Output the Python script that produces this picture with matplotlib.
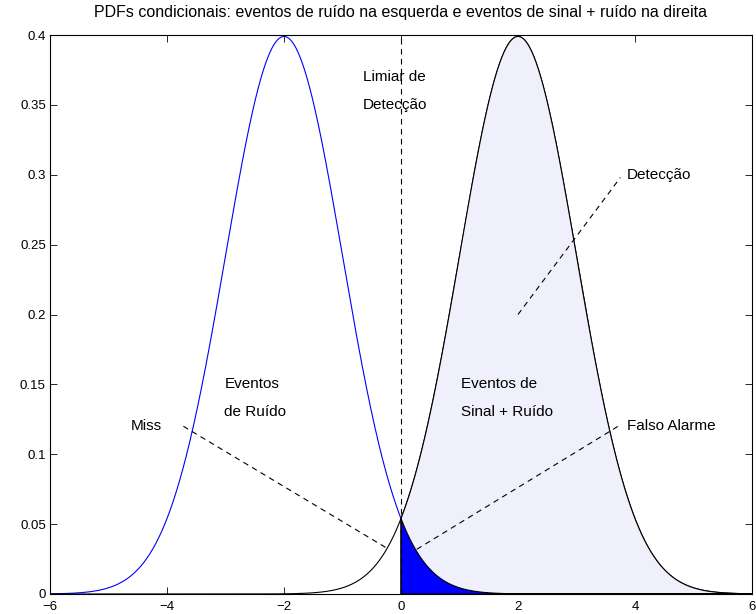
import matplotlib
matplotlib.use('Agg')
import matplotlib.pyplot as plt
import numpy as np

plt.rcParams['font.family'] = ['Liberation Sans', 'DejaVu Sans']
plt.rcParams['font.size'] = 9

# parametros das PDFs
media_ruido = -2.0
media_sinal = 2.0
desvio = 1.0
limiar = 0.0

xlim = [-6, 6]
ylim = [0, 0.4]
xticks = [-6, -4, -2, 0, 2, 4, 6]
yticks = [0, 0.05, 0.1, 0.15, 0.2, 0.25, 0.3, 0.35, 0.4]

titulo = 'PDFs condicionais: eventos de ruído na esquerda e eventos de sinal + ruído na direita'

# linhas de anotacao: (x0, y0, x1, y1)
linha_deteccao = [2.0, 0.2, 3.75, 0.298]
linha_falso = [0.27, 0.032, 3.75, 0.121]
linha_miss = [-3.72, 0.12, -0.25, 0.033]

FS = 11


def gauss(x, m, s):
	return np.exp(-0.5 * ((x - m) / s) ** 2) / (s * np.sqrt(2 * np.pi))


x = np.linspace(-6, 6, 1201)
pdf_ruido = gauss(x, media_ruido, desvio)
pdf_sinal = gauss(x, media_sinal, desvio)

fig = plt.figure(figsize=(7.56, 6.14), dpi=100)
ax = fig.add_axes([50/756, 20/614, 702/756, 559/614])

# curvas
ax.plot(x[x <= limiar], pdf_ruido[x <= limiar], color='blue', lw=0.8)
ax.plot(x, pdf_sinal, color='black', lw=0.8)

# area de deteccao (sinal + ruido a direita do limiar)
xd = x[x >= limiar]
ax.fill(np.concatenate([[limiar], xd, [xd[-1]]]),
	np.concatenate([[0], gauss(xd, media_sinal, desvio), [0]]),
	facecolor=(0.94, 0.94, 0.99), edgecolor='black', lw=0.8, zorder=2)

# falso alarme (ruido a direita do limiar)
ax.fill(np.concatenate([[limiar], xd, [xd[-1]]]),
	np.concatenate([[0], gauss(xd, media_ruido, desvio), [0]]),
	facecolor='blue', edgecolor='black', lw=0.8, zorder=3)

# limiar
ax.plot([limiar, limiar], ylim, 'k--', lw=0.8, dashes=(5, 4), zorder=4)

for l in [linha_deteccao, linha_falso, linha_miss]:
	ax.plot([l[0], l[2]], [l[1], l[3]], 'k--', lw=0.8, dashes=(5, 4), zorder=4)

# textos
ax.text(-0.65, 0.37, 'Limiar de', ha='left', va='center', fontsize=FS)
ax.text(-0.65, 0.35, 'Detecção', ha='left', va='center', fontsize=FS)
ax.text(3.86, 0.3, 'Detecção', ha='left', va='center', fontsize=FS)
ax.text(3.86, 0.12, 'Falso Alarme', ha='left', va='center', fontsize=FS)
ax.text(-4.62, 0.12, 'Miss', ha='left', va='center', fontsize=FS)
ax.text(-3.02, 0.15, 'Eventos', ha='left', va='center', fontsize=FS)
ax.text(-3.02, 0.13, 'de Ruído', ha='left', va='center', fontsize=FS)
ax.text(1.02, 0.15, 'Eventos de', ha='left', va='center', fontsize=FS)
ax.text(1.02, 0.13, 'Sinal + Ruído', ha='left', va='center', fontsize=FS)

ax.set_xlim(xlim)
ax.set_ylim(ylim)
ax.set_xticks(xticks)
ax.set_yticks(yticks)
ax.set_xticklabels([str(t).replace('-', '\u2212') for t in xticks], fontsize=9.5)
ax.set_yticklabels(['0', '0.05', '0.1', '0.15', '0.2', '0.25', '0.3', '0.35', '0.4'], fontsize=9.5)
ax.tick_params(direction='in', top=True, right=True, length=5, width=0.6, pad=3)
ax.tick_params(axis='x', pad=5)
for s in ax.spines.values():
	s.set_linewidth(0.8)
ax.set_title(titulo, fontsize=11.5, pad=13)

fig.savefig('out.png', dpi=100)
